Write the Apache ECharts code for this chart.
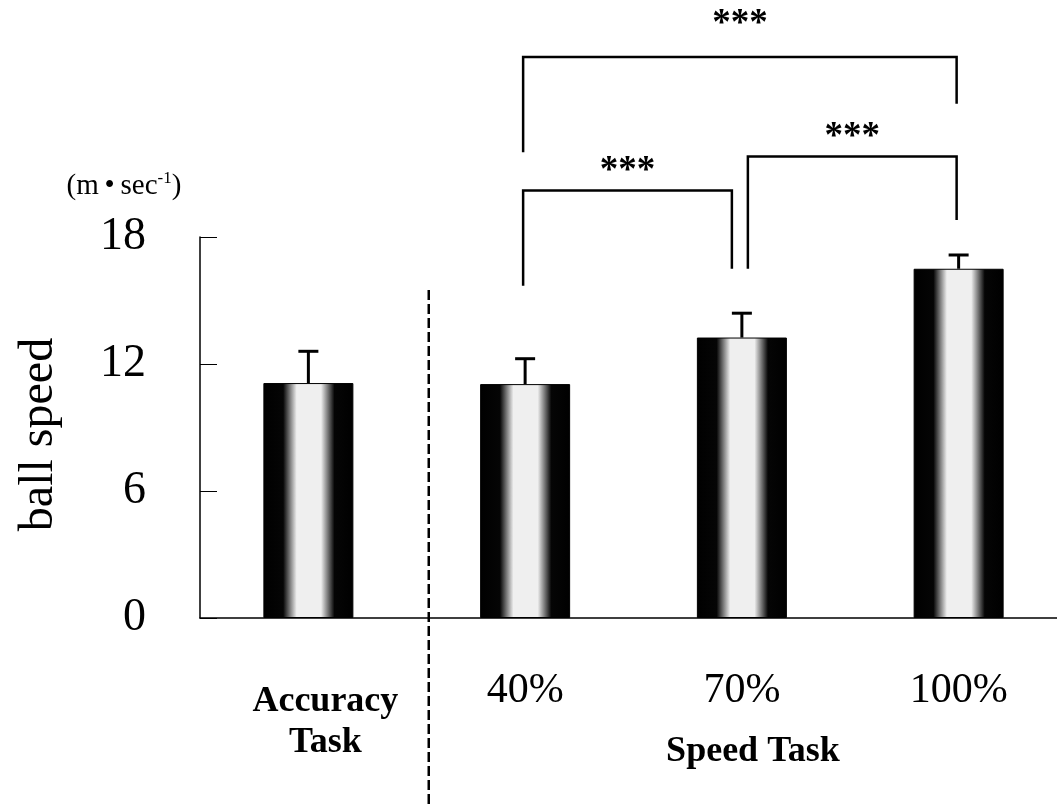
<!DOCTYPE html>
<html><head><meta charset="utf-8">
<script src="https://cdn.jsdelivr.net/npm/echarts@6/dist/echarts.min.js"></script>
<style>html,body{margin:0;padding:0;background:#fff;overflow:hidden}#c{width:1067px;height:806px}</style>
</head><body><div id="c"></div>
<script>
// ---- data ----
const categories = ['Accuracy Task', '40%', '70%', '100%'];
const meanSpeed = [11.1, 11.05, 13.25, 16.5];
const errorTop = [12.6, 12.25, 14.4, 17.15];
const yTicks = [0, 6, 12, 18];
const yAxisName = 'ball speed';
const unitText = 'm\u2009•\u2009sec';
const unitSup = '-1';
const groupLabel = 'Speed Task';
// significance brackets (category index pairs) and their heights in m/s
const bracketPairs = [[1, 3], [1, 2], [2, 3]];
const bracketTop = [26.5, 20.2, 21.8];
const bracketLeftEnd = [22.0, 15.7, 16.5];
const bracketRightEnd = [24.3, 16.5, 18.8];
const bracketStarY = [28.05, 21.1, 22.7];
const bracketMark = ['***', '***', '***'];
const dividerTop = 15.5;

const SERIF = '"Liberation Serif", "Times New Roman", serif';
const chart = echarts.init(document.getElementById('c'), null, {renderer: 'canvas'});

const barGradient = new echarts.graphic.LinearGradient(0, 0, 1, 0, [
  {offset: 0, color: '#000'}, {offset: 0.22, color: '#050505'},
  {offset: 0.37, color: '#efefef'}, {offset: 0.64, color: '#efefef'},
  {offset: 0.79, color: '#050505'}, {offset: 1, color: '#000'}
]);

const bracketData = bracketPairs.map((p, i) => [p[0], p[1], bracketTop[i], bracketLeftEnd[i], bracketRightEnd[i], bracketStarY[i], i]);

option = {
  backgroundColor: '#fff',
  animation: false,
  grid: {left: 200, right: 0, top: 237, bottom: 188, containLabel: false},
  xAxis: {
    type: 'category', data: categories,
    axisLine: {lineStyle: {color: '#000', width: 1.5}},
    axisTick: {inside: true, length: 14, lineStyle: {color: '#000', width: 1}},
    axisLabel: {
      interval: 0, margin: 49, color: '#000',
      formatter: (v, i) => i === 0 ? '{sp| }\n{acc|Accuracy}\n{acc|Task}' : '{pct|' + v + '}',
      rich: {
        sp: {fontSize: 1, lineHeight: 14},
        acc: {fontFamily: SERIF, fontWeight: 'bold', fontSize: 36, lineHeight: 41, color: '#000', padding: [0, 0, 0, 34]},
        pct: {fontFamily: SERIF, fontSize: 42, lineHeight: 48, color: '#000'}
      }
    },
    splitLine: {show: false}
  },
  yAxis: {
    type: 'value', min: 0, max: 18, interval: 6,
    name: yAxisName, nameLocation: 'middle', nameGap: 137,
    nameTextStyle: {fontFamily: SERIF, fontSize: 48, color: '#000', padding: [0, 14, 0, 0]},
    axisLine: {show: true, lineStyle: {color: '#000', width: 1.5}},
    axisTick: {show: true, inside: true, length: 17, lineStyle: {color: '#000', width: 1}},
    axisLabel: {margin: 54, fontFamily: SERIF, fontSize: 46, color: '#000',
      formatter: v => yTicks.indexOf(v) >= 0 ? String(v) : ''},
    splitLine: {show: false}
  },
  graphic: [
    {type: 'text', x: 124, y: 186, style: {
      text: '{a|(' + unitText + '}{s|' + unitSup + '}{a|)}', align: 'center', verticalAlign: 'middle',
      rich: {a: {fontFamily: SERIF, fontSize: 29, lineHeight: 32, fill: '#000', color: '#000'},
             s: {fontFamily: SERIF, fontSize: 17, lineHeight: 32, verticalAlign: 'top', fill: '#000', color: '#000'}}
    }},
    {type: 'text', x: 753, y: 752, style: {
      text: groupLabel, align: 'center', verticalAlign: 'middle',
      font: 'bold 36px ' + SERIF, fill: '#000'
    }}
  ],
  series: [
    {
      type: 'bar', data: meanSpeed, barWidth: 90,
      itemStyle: {color: barGradient, borderColor: '#000', borderWidth: 1}
    },
    {
      type: 'custom', clip: false, z: 5,
      data: meanSpeed.map((m, i) => [i, m, errorTop[i]]),
      encode: {x: 0, y: [1, 2]},
      renderItem: (params, api) => {
        const b = api.coord([api.value(0), api.value(1)]);
        const t = api.coord([api.value(0), api.value(2)]);
        const st = {stroke: '#000', lineWidth: 3};
        return {type: 'group', children: [
          {type: 'line', shape: {x1: b[0], y1: b[1], x2: t[0], y2: t[1]}, style: st},
          {type: 'line', shape: {x1: t[0] - 10, y1: t[1], x2: t[0] + 10, y2: t[1]}, style: st}
        ]};
      }
    },
    {
      type: 'custom', clip: false, z: 5,
      data: bracketData,
      encode: {x: [0, 1], y: [2, 3, 4, 5]},
      renderItem: (params, api) => {
        const a = api.value(0), b = api.value(1);
        const nudgeL = bracketPairs.some(p => p[1] === a) ? 8 : 0;
        const nudgeR = bracketPairs.some(p => p[0] === b) ? -8 : 0;
        const top = api.coord([a, api.value(2)])[1];
        const le = api.coord([a, api.value(3)]);
        const re = api.coord([b, api.value(4)]);
        const sy = api.coord([a, api.value(5)])[1];
        const xl = le[0] + nudgeL - 2, xr = re[0] + nudgeR - 2;
        const st = {stroke: '#000', lineWidth: 2.5, fill: null};
        return {type: 'group', children: [
          {type: 'polyline', shape: {points: [[xl, le[1]], [xl, top], [xr, top], [xr, re[1]]]}, style: st},
          {type: 'text', x: (xl + xr) / 2, y: sy, style: {
            text: bracketMark[api.value(6)], align: 'center', verticalAlign: 'middle',
            font: 'bold 37px ' + SERIF, fill: '#000'}}
        ]};
      }
    },
    {
      type: 'custom', clip: false, z: 4,
      data: [[0, dividerTop]],
      renderItem: (params, api) => {
        const p0 = api.coord([0, api.value(1)]);
        const p1 = api.coord([1, api.value(1)]);
        const x = (p0[0] + p1[0]) / 2 + 12;
        return {type: 'line', shape: {x1: x, y1: p0[1], x2: x, y2: api.getHeight()},
          style: {stroke: '#000', lineWidth: 2.5, lineDash: [10, 4]}};
      }
    }
  ]
};
chart.setOption(option);
</script>
</body></html>
